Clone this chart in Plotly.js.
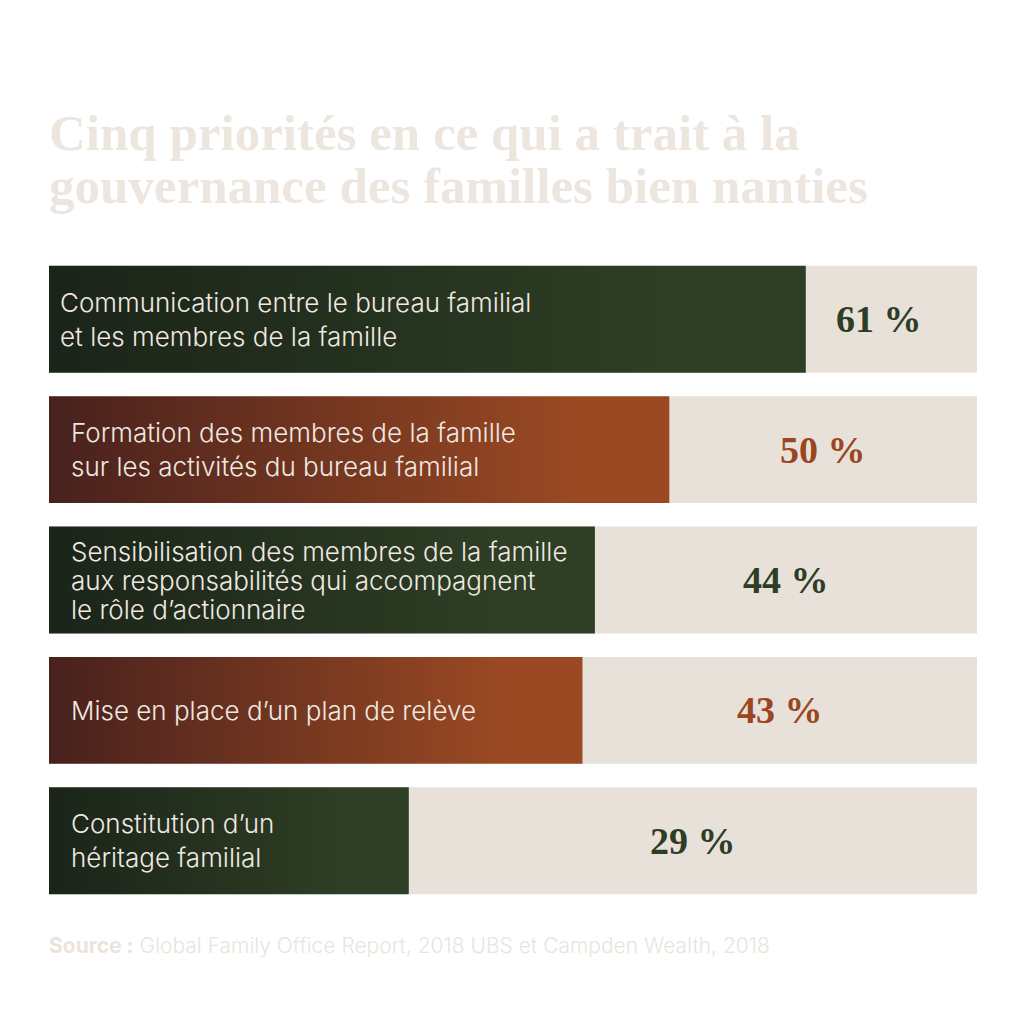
<!DOCTYPE html>
<html>
<head>
<meta charset="utf-8">
<script src="https://cdn.plot.ly/plotly-3.0.1.min.js"></script>
<style>
  html, body { margin: 0; padding: 0; background: #ffffff; }
  #chart { width: 1024px; height: 1024px; }
</style>
</head>
<body>
<div id="chart"></div>
<script>
// Chart data, top to bottom
const labels = [
  'Communication entre le bureau familial<br>et les membres de la famille',
  'Formation des membres de la famille<br>sur les activités du bureau familial',
  'Sensibilisation des membres de la famille<br>aux responsabilités qui accompagnent<br>le rôle d’actionnaire',
  'Mise en place d’un plan de relève',
  'Constitution d’un<br>héritage familial'
];
const values = [61, 50, 44, 43, 29];
const valueTexts = ['61 %', '50 %', '44 %', '43 %', '29 %'];
const palettes = ['green', 'rust', 'green', 'rust', 'green'];
const titleLines = [
  'Cinq priorités en ce qui a trait à la',
  'gouvernance des familles bien nanties'
];
const sourceText = '<b>Source :</b> Global Family Office Report, 2018 UBS et Campden Wealth, 2018';

const AXIS_MAX = 74.8;
const BAR_W = 0.82;

const gradients = {
  green: { from: '#1b2419', to: '#2f3f25', text: '#2e3d26' },
  rust:  { from: '#48211d', to: '#9a4923', text: '#9a4622' }
};

const ypos = values.map((v, i) => i);

// beige track behind each bar
const traces = [{
  type: 'bar',
  orientation: 'h',
  x: values.map(() => AXIS_MAX),
  y: ypos,
  width: BAR_W,
  marker: { color: '#e8e1da', line: { width: 0 } },
  hoverinfo: 'skip',
  showlegend: false
}];

// each value bar is a filled shape so it can carry a horizontal gradient
values.forEach((v, i) => {
  const g = gradients[palettes[i]];
  const lo = i - BAR_W / 2, hi = i + BAR_W / 2;
  traces.push({
    type: 'scatter',
    mode: 'lines',
    x: [0, v, v, 0, 0],
    y: [lo, lo, hi, hi, lo],
    fill: 'toself',
    line: { width: 0 },
    fillgradient: {
      type: 'horizontal',
      colorscale: [[0, g.from], [0.85, g.to], [1, g.to]]
    },
    hoverinfo: 'skip',
    showlegend: false
  });
});

const annotations = [];

// labels inside bars, one annotation per line so the leading can be set
labels.forEach((t, i) => {
  const lines = t.split('<br>');
  const gap = lines.length > 2 ? 29 : 34;
  lines.forEach((line, k) => {
    annotations.push({
      x: 0, y: i, xref: 'x', yref: 'y',
      xanchor: 'left', yanchor: 'middle', align: 'left',
      xshift: i === 0 ? 9 : 20,
      yshift: -(k - (lines.length - 1) / 2) * gap,
      text: line, showarrow: false,
      font: { family: 'Inter, Roboto, sans-serif', size: 26, weight: 300, color: '#efe9e2' }
    });
  });
});

// percentages centred in the remaining track
values.forEach((v, i) => {
  annotations.push({
    x: (v + AXIS_MAX) / 2, y: i, xref: 'x', yref: 'y',
    xanchor: 'center', yanchor: 'middle',
    xshift: i === 0 ? -12 : 0,
    text: '<b>' + valueTexts[i] + '</b>', showarrow: false,
    font: { family: 'Liberation Serif, serif', size: 38, color: gradients[palettes[i]].text }
  });
});

// title, two lines placed separately for tighter leading
titleLines.forEach((line, k) => {
  annotations.push({
    x: -0.002, y: k === 0 ? 1.186 : 1.105, xref: 'paper', yref: 'paper',
    xanchor: 'left', yanchor: 'middle', align: 'left',
    text: '<b>' + line + '</b>',
    showarrow: false,
    font: { family: 'Liberation Serif, serif', size: 51, color: '#ece6df' }
  });
});

// source line
annotations.push({
  x: -0.002, y: -0.0605, xref: 'paper', yref: 'paper',
  xanchor: 'left', yanchor: 'middle', align: 'left',
  text: sourceText,
  showarrow: false,
  font: { family: 'Inter, Roboto, sans-serif', size: 21, weight: 300, color: '#ebe4dc' }
});

const layout = {
  width: 1024,
  height: 1024,
  paper_bgcolor: '#ffffff',
  plot_bgcolor: '#ffffff',
  margin: { l: 49, r: 47, t: 254, b: 118, pad: 0 },
  xaxis: { range: [0, AXIS_MAX], visible: false, fixedrange: true },
  yaxis: { range: [4.5, -0.5], visible: false, fixedrange: true },
  barmode: 'overlay',
  showlegend: false,
  annotations: annotations
};

Plotly.newPlot('chart', traces, layout, { displayModeBar: false, staticPlot: true });
</script>
</body>
</html>
